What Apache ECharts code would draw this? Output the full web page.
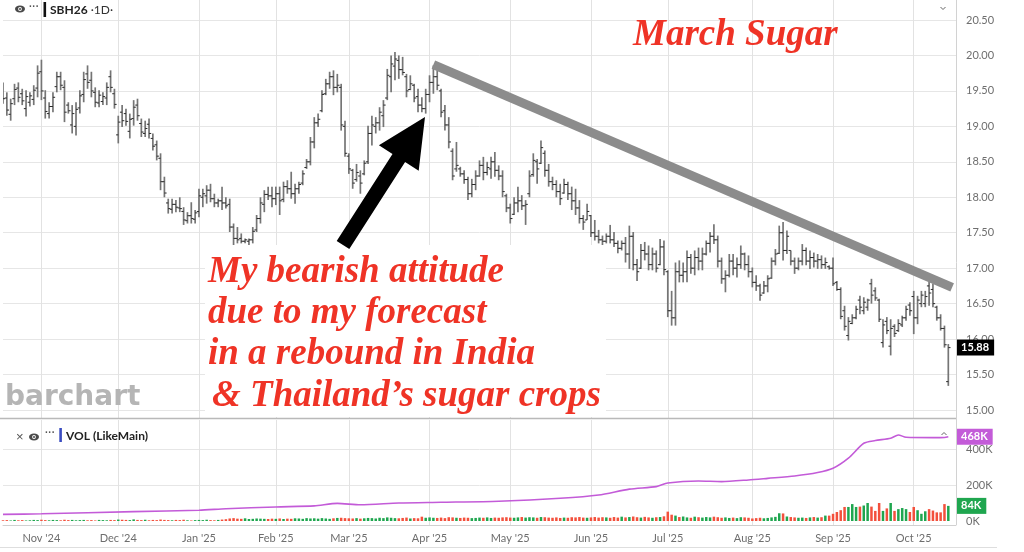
<!DOCTYPE html>
<html><head><meta charset="utf-8">
<script src="https://cdn.jsdelivr.net/npm/echarts@6/dist/echarts.min.js"></script>
<style>html,body{margin:0;padding:0;background:#fff}#c{width:1024px;height:552px}</style>
</head><body><div id="c"></div>
<script>
// ---------- calendar ----------
const monthKeys = [[2024,10],[2024,11],[2024,12],[2025,1],[2025,2],[2025,3],[2025,4],[2025,5],[2025,6],[2025,7],[2025,8],[2025,9],[2025,10]];
const monthNames = ['Jan','Feb','Mar','Apr','May','Jun','Jul','Aug','Sep','Oct','Nov','Dec'];
const holidays = ['2024-11-28','2024-12-25','2025-01-01','2025-01-09','2025-01-20','2025-02-17','2025-04-18','2025-05-26','2025-06-19','2025-07-04','2025-09-01'];

// ---------- price bars [open, high, low, close] ----------
const ohlc_2024_10 = [[19.53,19.62,19.32,19.39],[19.40,19.48,19.15,19.23],[19.17,19.39,19.08,19.32],[19.39,19.60,19.30,19.52],[19.54,19.62,19.34,19.41],[19.46,19.53,19.30,19.36],[19.25,19.51,19.14,19.42],[19.34,19.48,19.28,19.43],[19.38,19.58,19.30,19.51],[19.54,19.86,19.41,19.75]];
const ohlc_2024_11 = [[19.77,19.94,19.37,19.50],[19.40,19.51,19.11,19.21],[19.18,19.34,19.11,19.28],[19.28,19.48,19.20,19.41],[19.56,19.77,19.48,19.70],[19.70,19.77,19.51,19.58],[19.55,19.65,19.06,19.20],[19.30,19.34,19.18,19.22],[19.02,19.30,18.90,19.18],[19.00,19.34,18.87,19.24],
[19.26,19.51,19.18,19.43],[19.45,19.77,19.34,19.66],[19.74,19.86,19.53,19.62],[19.65,19.77,19.41,19.50],[19.48,19.55,19.27,19.34],[19.33,19.51,19.27,19.44],[19.35,19.48,19.30,19.42],[19.40,19.62,19.30,19.55],[19.70,19.79,19.48,19.55],[19.46,19.53,19.25,19.31]];
const ohlc_2024_12 = [[18.88,19.15,18.76,19.06],[19.20,19.30,18.99,19.08],[19.18,19.25,19.01,19.07],[18.93,19.18,18.83,19.10],[19.11,19.37,19.01,19.27],[19.30,19.39,19.08,19.15],[19.04,19.11,18.85,18.92],[18.90,19.08,18.85,18.97],[19.03,19.11,18.83,18.90],[18.83,18.90,18.66,18.72],
[18.74,18.80,18.52,18.58],[18.55,18.62,18.10,18.22],[18.22,18.29,18.00,18.06],[17.92,17.98,17.77,17.84],[17.83,17.98,17.77,17.90],[17.90,17.96,17.79,17.86],[17.85,18.00,17.79,17.84],[17.80,17.86,17.61,17.68],[17.67,17.79,17.63,17.74],[17.74,17.93,17.63,17.70],[17.69,17.82,17.63,17.78]];
const ohlc_2025_01 = [[17.80,18.12,17.72,18.02],[18.00,18.12,17.86,18.05],[18.02,18.17,17.91,18.10],[18.10,18.19,17.93,17.98],[17.98,18.05,17.86,17.92],[17.92,17.98,17.86,17.95],[17.95,18.15,17.82,17.92],[17.92,18.00,17.84,17.88],[17.90,17.98,17.51,17.58],[17.58,17.63,17.32,17.42],
[17.42,17.58,17.35,17.40],[17.42,17.49,17.35,17.38],[17.38,17.42,17.35,17.40],[17.38,17.42,17.32,17.40],[17.40,17.58,17.35,17.52],[17.54,17.75,17.51,17.70],[17.70,18.00,17.63,17.92],[17.90,18.10,17.79,18.04],[18.04,18.15,17.96,18.02],[18.02,18.15,17.86,17.98]];
const ohlc_2025_02 = [[17.98,18.15,17.89,18.05],[18.05,18.15,17.75,17.95],[17.97,18.22,17.93,18.15],[18.15,18.24,18.05,18.12],[18.12,18.36,17.98,18.05],[18.05,18.19,17.91,18.12],[18.12,18.22,18.05,18.18],[18.20,18.38,18.17,18.33],[18.42,18.54,18.40,18.50],[18.50,18.85,18.45,18.78],
[18.78,19.13,18.69,19.05],[19.05,19.18,18.99,19.10],[19.22,19.51,19.20,19.45],[19.46,19.67,19.44,19.60],[19.60,19.77,19.53,19.70],[19.70,19.79,19.44,19.55],[19.55,19.74,19.48,19.58],[19.55,19.60,18.94,19.02],[19.00,19.08,18.57,18.62]];
const ohlc_2025_03 = [[18.58,18.62,18.33,18.40],[18.38,18.40,18.12,18.20],[18.25,18.47,18.22,18.35],[18.30,18.38,18.05,18.20],[18.33,18.52,18.31,18.48],[18.50,19.01,18.47,18.90],[18.90,19.15,18.73,19.02],[19.00,19.13,18.90,19.05],[19.05,19.27,18.94,19.20],[19.15,19.37,18.99,19.30],
[19.40,19.81,19.37,19.72],[19.70,20.00,19.48,19.88],[19.85,20.05,19.65,19.95],[19.93,20.00,19.67,19.80],[19.80,19.98,19.72,19.76],[19.70,19.74,19.41,19.50],[19.52,19.72,19.51,19.60],[19.58,19.60,19.34,19.40],[19.42,19.53,19.20,19.30],[19.30,19.41,19.20,19.25],[19.25,19.53,19.18,19.45]];
const ohlc_2025_04 = [[19.45,19.72,19.34,19.62],[19.62,19.86,19.46,19.70],[19.70,19.79,19.51,19.58],[19.50,19.53,19.13,19.20],[19.22,19.30,18.94,19.02],[19.02,19.13,18.69,18.78],[18.65,18.69,18.24,18.30],[18.40,18.78,18.36,18.45],[18.40,18.43,18.29,18.33],[18.33,18.38,18.19,18.25],
[18.25,18.29,17.96,18.05],[18.05,18.26,18.00,18.18],[18.18,18.38,18.10,18.30],[18.30,18.52,18.29,18.45],[18.45,18.57,18.24,18.35],[18.35,18.50,18.31,18.42],[18.40,18.57,18.26,18.50],[18.50,18.64,18.29,18.38],[18.38,18.45,18.24,18.30],[18.30,18.38,18.00,18.08],[18.02,18.05,17.79,17.85]];
const ohlc_2025_05 = [[17.85,17.91,17.63,17.70],[17.76,18.00,17.75,17.92],[17.92,18.15,17.79,17.95],[17.95,18.03,17.82,17.88],[17.88,17.96,17.61,17.90],[18.05,18.38,18.00,18.30],[18.32,18.62,18.29,18.52],[18.50,18.54,18.19,18.40],[18.48,18.80,18.47,18.70],[18.62,18.66,18.29,18.38],
[18.38,18.47,18.15,18.22],[18.22,18.29,18.10,18.18],[18.18,18.24,18.00,18.08],[18.08,18.19,17.89,17.98],[18.06,18.26,18.05,18.18],[18.18,18.22,17.96,18.05],[18.05,18.15,17.82,17.95],[17.95,18.12,17.75,17.85],[17.85,17.96,17.63,17.70],[17.70,17.75,17.54,17.65],[17.68,17.91,17.68,17.80]];
const ohlc_2025_06 = [[17.74,17.75,17.44,17.50],[17.50,17.68,17.39,17.45],[17.45,17.54,17.35,17.40],[17.40,17.46,17.32,17.38],[17.38,17.49,17.35,17.45],[17.45,17.61,17.35,17.40],[17.40,17.51,17.30,17.35],[17.35,17.39,17.21,17.28],[17.28,17.39,17.25,17.35],[17.35,17.44,17.08,17.20],
[17.20,17.60,16.99,17.45],[17.45,17.51,16.97,17.05],[17.05,17.13,16.82,16.95],[17.00,17.34,16.99,17.25],[17.25,17.37,17.11,17.20],[17.20,17.32,16.97,17.05],[17.05,17.29,16.97,17.20],[17.20,17.25,16.94,17.00],[17.05,17.41,17.04,17.30],[17.30,17.39,16.90,16.98]];
const ohlc_2025_07 = [[16.95,16.97,16.31,16.40],[16.40,16.68,16.19,16.30],[16.30,17.08,16.19,16.95],[16.95,17.11,16.80,16.90],[16.90,17.08,16.80,16.95],[16.95,17.25,16.80,17.15],[17.15,17.20,16.92,17.00],[17.00,17.25,16.90,17.15],[17.15,17.29,16.97,17.10],[17.10,17.29,16.97,17.20],
[17.20,17.39,17.18,17.35],[17.35,17.51,17.22,17.45],[17.45,17.62,17.34,17.40],[17.40,17.46,17.01,17.10],[17.10,17.15,16.78,16.85],[16.85,16.97,16.66,16.90],[16.90,17.20,16.87,17.10],[17.10,17.20,16.90,17.00],[17.00,17.15,16.87,17.05],[17.05,17.32,16.99,17.20],[17.20,17.22,16.97,17.05],[17.05,17.18,16.87,16.95]];
const ohlc_2025_08 = [[16.95,17.01,16.73,16.80],[16.80,16.90,16.68,16.75],[16.75,16.78,16.54,16.62],[16.65,16.82,16.64,16.75],[16.75,16.90,16.66,16.85],[16.86,17.15,16.85,17.10],[17.10,17.27,17.04,17.20],[17.21,17.60,17.20,17.50],[17.50,17.65,17.11,17.25],[17.25,17.53,17.20,17.45],
[17.25,17.25,17.04,17.10],[17.10,17.15,16.92,17.00],[17.00,17.15,16.97,17.10],[17.10,17.34,17.04,17.25],[17.25,17.29,17.04,17.10],[17.10,17.25,16.99,17.15],[17.15,17.22,17.01,17.10],[17.10,17.20,16.99,17.12],[17.12,17.18,16.99,17.05],[17.05,17.15,16.99,17.08],[17.02,17.04,16.98,17.00]];
const ohlc_2025_09 = [[17.00,17.15,16.75,16.78],[16.80,16.82,16.68,16.70],[16.70,16.73,16.28,16.32],[16.40,16.47,16.12,16.18],[16.05,16.31,15.98,16.25],[16.22,16.35,16.21,16.30],[16.30,16.47,16.28,16.42],[16.55,16.61,16.35,16.45],[16.40,16.59,16.35,16.52],[16.45,16.57,16.40,16.55],
[16.78,16.85,16.50,16.62],[16.68,16.73,16.54,16.58],[16.55,16.57,16.24,16.28],[15.95,16.28,15.88,16.20],[16.25,16.31,16.07,16.12],[15.90,16.28,15.77,16.15],[16.18,16.21,16.03,16.08],[16.12,16.28,16.10,16.22],[16.20,16.33,16.17,16.30],[16.30,16.47,16.26,16.42],[16.48,16.52,16.33,16.40]];
const ohlc_2025_10 = [[16.60,16.68,16.07,16.30],[16.30,16.61,16.21,16.55],[16.50,16.68,16.45,16.62],[16.50,16.68,16.45,16.60],[16.75,16.82,16.47,16.65],[16.70,16.78,16.45,16.50],[16.45,16.47,16.26,16.30],[16.30,16.35,16.12,16.15],[16.15,16.19,15.88,15.92],[15.40,15.93,15.34,15.88]];

// ---------- daily volume (thousands) ----------
const vol_2024_10 = [4,5,3,6,4,5,3,4,6,5];
const vol_2024_11 = [7,5,4,6,5,4,7,5,6,4,5,6,4,5,3,6,5,4,6,5];
const vol_2024_12 = [8,7,6,5,9,6,5,7,4,6,5,8,6,5,4,6,5,7,4,3,5];
const vol_2025_01 = [6,5,7,5,4,6,8,10,14,16,13,12,15,11,12,14,13,12,11,13];
const vol_2025_02 = [12,14,11,13,12,15,14,12,16,14,15,13,16,14,12,15,17,18,16];
const vol_2025_03 = [15,14,16,13,15,17,16,14,18,16,20,18,16,15,17,19,14,16,15,24,18];
const vol_2025_04 = [20,18,17,19,16,21,20,18,17,19,18,16,17,19,18,20,17,19,18,20,21];
const vol_2025_05 = [19,18,20,22,19,21,20,18,22,21,19,18,20,17,19,18,21,20,22,19,18];
const vol_2025_06 = [20,22,19,21,20,18,22,19,24,20,22,25,21,19,23,20,18,21,22,26];
const vol_2025_07 = [52,35,30,22,25,20,18,24,21,19,22,20,24,21,18,20,17,19,16,21,20,18];
const vol_2025_08 = [14,16,18,15,17,20,23,43,42,25,22,20,18,19,17,20,22,19,21,30,30];
const vol_2025_09 = [40,50,60,78,78,94,78,80,86,100,80,56,100,56,70,100,56,66,72,66,50];
const vol_2025_10 = [78,60,40,54,66,58,48,48,94,84];

// ---------- open interest line (bar index, thousands) ----------
const oiPoints = [[0,37],[10,40],[34,52],[51,60],[58,68],[71,78],[81,84],[87,98],[93,90],[103,100],[114,104],[129,110],[145,126],[155,144],[163,177],[170,191],[173,211],[181,222],[187,219],[194,228],[199,237],[206,250],[212,269],[216,293],[220,349],[224,432],[227,447],[231,460],[233,478],[235,465],[242,463],[245,464],[246,468]];

// ---------- trend line (bar index, price) ----------
const trendPoints = [[112,19.87],[247,16.73]];

// ---------- axes ----------
const priceMin = 15, priceMax = 20.5, priceStep = 0.5;
const volMin = 0, volMax = 600, volStep = 200;

// ---------- build ----------
function tradingDays(y, m) {
  const out = []; const d = new Date(Date.UTC(y, m - 1, 1));
  while (d.getUTCMonth() === m - 1) {
    const wd = d.getUTCDay(); const iso = d.toISOString().slice(0, 10);
    if (wd !== 0 && wd !== 6 && holidays.indexOf(iso) < 0) out.push(iso);
    d.setUTCDate(d.getUTCDate() + 1);
  }
  return out;
}
const ohlcByMonth = [ohlc_2024_10,ohlc_2024_11,ohlc_2024_12,ohlc_2025_01,ohlc_2025_02,ohlc_2025_03,ohlc_2025_04,ohlc_2025_05,ohlc_2025_06,ohlc_2025_07,ohlc_2025_08,ohlc_2025_09,ohlc_2025_10];
const volByMonth = [vol_2024_10,vol_2024_11,vol_2024_12,vol_2025_01,vol_2025_02,vol_2025_03,vol_2025_04,vol_2025_05,vol_2025_06,vol_2025_07,vol_2025_08,vol_2025_09,vol_2025_10];
const dates = [], ohlc = [], vols = [];
monthKeys.forEach(function (ym, k) {
  const days = tradingDays(ym[0], ym[1]); const arr = ohlcByMonth[k];
  const sel = k === 0 ? days.slice(days.length - arr.length) : days.slice(0, arr.length);
  for (let j = 0; j < arr.length; j++) { dates.push(sel[j]); ohlc.push(arr[j]); vols.push(volByMonth[k][j]); }
});
const cats = dates.concat(['', '']);
function isMonthStart(i) {
  if (i <= 0 || i >= dates.length) return false;
  return dates[i].slice(0, 7) !== dates[i - 1].slice(0, 7);
}
function monthLabel(i) {
  const s = dates[i]; return monthNames[+s.slice(5, 7) - 1] + " '" + s.slice(2, 4);
}
const GREEN = '#1fa64f', RED = '#f3503c', PURPLE = '#c35bd8';
const L = 3, R = 68;
const lbl = { color: '#6e6e6e', fontSize: 11, fontFamily: 'Lato, sans-serif' };
const vgrid = { show: true, interval: function (i) { return isMonthStart(i); }, lineStyle: { color: '#e2e2e2', width: 1 } };

const chart = echarts.init(document.getElementById('c'), null, { renderer: 'canvas' });
chart.setOption({
  animation: false,
  backgroundColor: '#fff',
  grid: [
    { left: L, right: R, top: 0, height: 418 },
    { left: L, right: R, top: 20, height: 390 },
    { left: L, right: R, top: 420, height: 105 },
    { left: L, right: R, top: 413, height: 108 }
  ],
  xAxis: [
    { gridIndex: 0, type: 'category', data: cats, boundaryGap: false, axisLine: { show: false }, axisTick: { show: false }, axisLabel: { show: false }, splitLine: vgrid },
    { gridIndex: 1, type: 'category', data: cats, boundaryGap: false, show: false },
    { gridIndex: 2, type: 'category', data: cats, boundaryGap: false, axisLine: { show: true, lineStyle: { color: '#d0d0d0' } }, axisTick: { show: false },
      axisLabel: Object.assign({ interval: function (i) { return isMonthStart(i); }, formatter: function (v, i) { return monthLabel(i); }, margin: 8 }, lbl), splitLine: vgrid },
    { gridIndex: 3, type: 'category', data: cats, boundaryGap: false, show: false }
  ],
  yAxis: [
    { gridIndex: 0, type: 'value', min: 0, max: 1, show: false },
    { gridIndex: 1, type: 'value', position: 'right', min: priceMin, max: priceMax, interval: priceStep,
      axisLine: { show: false }, axisTick: { show: false },
      axisLabel: Object.assign({ margin: 10, formatter: function (v) { return v.toFixed(2); } }, lbl),
      splitLine: { show: true, lineStyle: { color: '#e6e6e6' } } },
    { gridIndex: 2, type: 'value', min: 0, max: 1, show: false },
    { gridIndex: 3, type: 'value', position: 'right', min: volMin, max: volMax, interval: volStep,
      axisLine: { show: false }, axisTick: { show: false },
      axisLabel: Object.assign({ margin: 10, showMaxLabel: false, formatter: function (v) { return v + 'K'; } }, lbl),
      splitLine: { show: true, showMinLine: false, showMaxLine: false, lineStyle: { color: '#e6e6e6' } } }
  ],
  series: [
    { type: 'custom', xAxisIndex: 1, yAxisIndex: 1, clip: true, z: 3,
      data: ohlc.map(function (d, i) { return [i, d[0], d[1], d[2], d[3]]; }),
      encode: { x: 0, y: [1, 2, 3, 4] },
      renderItem: function (params, api) {
        const i = api.value(0);
        const hi = api.coord([i, api.value(2)]); const lo = api.coord([i, api.value(3)]);
        const oy = api.coord([i, api.value(1)])[1]; const cy = api.coord([i, api.value(4)])[1];
        const x = hi[0];
        return { type: 'group', children: [
          { type: 'line', shape: { x1: x, y1: hi[1], x2: x, y2: lo[1] }, style: { stroke: '#757575', lineWidth: 1.7 } },
          { type: 'line', shape: { x1: x - 2.2, y1: oy, x2: x, y2: oy }, style: { stroke: '#2a2a2a', lineWidth: 1 } },
          { type: 'line', shape: { x1: x, y1: cy, x2: x + 2.2, y2: cy }, style: { stroke: '#2a2a2a', lineWidth: 1 } }
        ] };
      } },
    { type: 'line', xAxisIndex: 1, yAxisIndex: 1, data: trendPoints, symbol: 'none', silent: true, z: 4,
      lineStyle: { color: '#8c8c8c', width: 9, cap: 'butt' } },
    { type: 'bar', xAxisIndex: 3, yAxisIndex: 3, barWidth: 2.5, z: 3,
      data: vols.map(function (v, i) { return { value: v, itemStyle: { color: ohlc[i][3] >= ohlc[i][0] ? GREEN : RED } }; }) },
    { type: 'line', xAxisIndex: 3, yAxisIndex: 3, data: oiPoints, symbol: 'none', smooth: 0.25, z: 4,
      lineStyle: { color: PURPLE, width: 1.6 } }
  ]
});

// ---------- overlays ----------
const lastClose = ohlc[ohlc.length - 1][3];
const lastVol = vols[vols.length - 1];
const lastOI = oiPoints[oiPoints.length - 1][1];
const yPrice = chart.convertToPixel({ yAxisIndex: 1 }, lastClose);
const yVol = chart.convertToPixel({ yAxisIndex: 3 }, lastVol);
const yOI = chart.convertToPixel({ yAxisIndex: 3 }, lastOI);
const red = '#ef3326';
const serif = '"Liberation Serif", "Times New Roman", serif';
function tag(txt, y, bg) {
  return { type: 'text', z: 120, x: 957, y: y, style: { text: txt, fill: '#fff', fontSize: 11, fontWeight: 'bold', fontFamily: 'Lato, sans-serif',
    backgroundColor: bg, padding: [3, 5, 2, 4], verticalAlign: 'middle', align: 'left' } };
}
function eye(cx, cy) {
  return [
    { type: 'ellipse', z: 120, shape: { cx: cx, cy: cy, rx: 5, ry: 3.4 }, style: { fill: '#4a4a4a' } },
    { type: 'circle', z: 121, shape: { cx: cx, cy: cy, r: 1.9 }, style: { fill: '#fff' } },
    { type: 'circle', z: 122, shape: { cx: cx, cy: cy, r: 1 }, style: { fill: '#4a4a4a' } }
  ];
}
const elems = [
  // panel frame
  { type: 'line', z: 90, shape: { x1: 0, y1: 418.5, x2: 956, y2: 418.5 }, style: { stroke: '#b9b9b9', lineWidth: 1.5 } },
  { type: 'line', z: 90, shape: { x1: 956.5, y1: 0, x2: 956.5, y2: 525 }, style: { stroke: '#d2d2d2', lineWidth: 1 } },
  { type: 'line', z: 90, shape: { x1: 0, y1: 547.5, x2: 997, y2: 547.5 }, style: { stroke: '#dedede', lineWidth: 1 } },
  // watermark
  { type: 'text', z: 1, x: 5, y: 412, style: { text: 'barchart', fill: '#b5b5b5', fontSize: 28, fontWeight: 'bold', fontFamily: '"DejaVu Sans", sans-serif', verticalAlign: 'bottom' } },
  // header of price panel
  { type: 'text', z: 120, x: 29, y: 7, style: { text: '···', fill: '#555', fontSize: 10, fontWeight: 'bold', verticalAlign: 'middle' } },
  { type: 'rect', z: 120, shape: { x: 43.5, y: 2, width: 2.6, height: 15 }, style: { fill: '#111' } },
  { type: 'text', z: 120, x: 50, y: 10, style: { text: '{b|SBH26}{n| ·1D·}', verticalAlign: 'middle',
      rich: { b: { fontSize: 12, fontWeight: 'bold', fill: '#222', fontFamily: 'Lato, sans-serif' }, n: { fontSize: 12, fill: '#333', fontFamily: 'Lato, sans-serif' } } } },
  { type: 'polyline', z: 120, shape: { points: [[940.5, 7], [943, 9.5], [945.5, 7]] }, style: { stroke: '#666', lineWidth: 1, fill: null } },
  // header of volume panel
  { type: 'text', z: 120, x: 16, y: 437, style: { text: '×', fill: '#555', fontSize: 13, verticalAlign: 'middle' } },
  { type: 'text', z: 120, x: 45, y: 433, style: { text: '···', fill: '#555', fontSize: 10, fontWeight: 'bold', verticalAlign: 'middle' } },
  { type: 'rect', z: 120, shape: { x: 59.3, y: 428, width: 2.6, height: 14 }, style: { fill: '#3a4cc0' } },
  { type: 'text', z: 120, x: 66, y: 436, style: { text: 'VOL (LikeMain)', fill: '#222', fontSize: 12, fontWeight: 'bold', fontFamily: 'Lato, sans-serif', verticalAlign: 'middle' } },
  { type: 'polyline', z: 120, shape: { points: [[941.5, 435], [944, 432.5], [946.5, 435]] }, style: { stroke: '#666', lineWidth: 1, fill: null } },
  // value tags
  tag(lastClose.toFixed(2), yPrice, '#000'),
  tag(lastOI + 'K', yOI, PURPLE),
  tag(lastVol + 'K', yVol, GREEN),
  // white text box
  { type: 'rect', z: 100, shape: { x: 205, y: 245, width: 401, height: 172 }, style: { fill: '#fff' } },
  // arrow
  { type: 'polygon', z: 105, shape: { points: [[425, 117], [418.7, 170.7], [405.1, 162], [349.3, 249], [336.7, 241], [392.5, 154], [378.9, 145.3]] }, style: { fill: '#000' } },
  // annotations
  { type: 'text', z: 110, x: 633, y: 35, style: { text: 'March Sugar', fill: red, fontSize: 37, fontWeight: 'bold', fontStyle: 'italic', fontFamily: serif, verticalAlign: 'middle' } },
  { type: 'text', z: 110, x: 208, y: 272, style: { text: 'My bearish attitude', fill: red, fontSize: 37, fontWeight: 'bold', fontStyle: 'italic', fontFamily: serif, verticalAlign: 'middle' } },
  { type: 'text', z: 110, x: 208, y: 313, style: { text: 'due to my forecast', fill: red, fontSize: 37, fontWeight: 'bold', fontStyle: 'italic', fontFamily: serif, verticalAlign: 'middle' } },
  { type: 'text', z: 110, x: 208, y: 354, style: { text: 'in a rebound in India', fill: red, fontSize: 37, fontWeight: 'bold', fontStyle: 'italic', fontFamily: serif, verticalAlign: 'middle' } },
  { type: 'text', z: 110, x: 212, y: 396, style: { text: '& Thailand\u2019s sugar crops', fill: red, fontSize: 37, fontWeight: 'bold', fontStyle: 'italic', fontFamily: serif, verticalAlign: 'middle' } }
].concat(eye(20, 9), eye(34, 437));
chart.setOption({ graphic: { elements: elems } });
</script>
</body></html>
